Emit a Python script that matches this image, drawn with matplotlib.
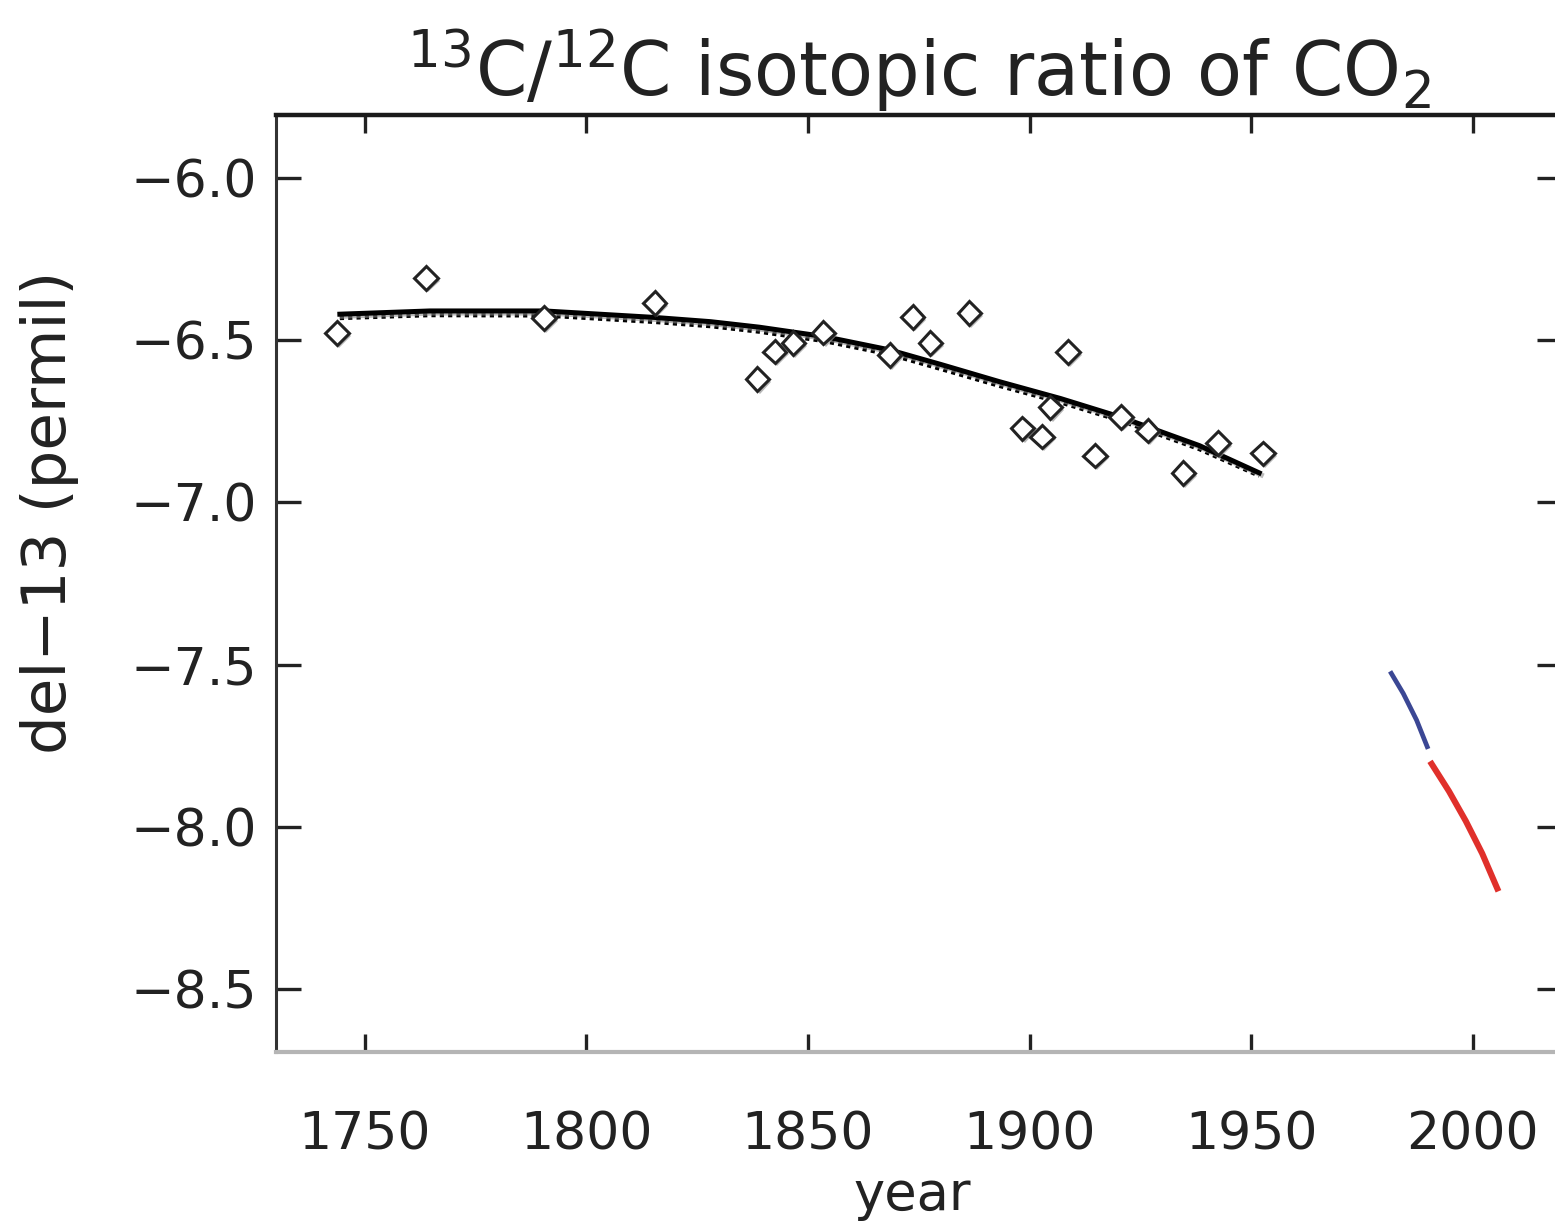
import matplotlib
matplotlib.use('Agg')
import matplotlib.pyplot as plt
import matplotlib.patheffects as pe

plt.rcParams['font.family'] = ['DejaVu Sans']
plt.rcParams['mathtext.default'] = 'regular'

# ice core / firn measurements (diamonds)
core_years = [1743.7, 1763.8, 1790.4, 1815.4, 1838.6, 1842.5, 1846.7, 1853.5,
              1868.4, 1873.6, 1877.6, 1886.4, 1898.4, 1902.8, 1904.7, 1908.7,
              1914.7, 1920.6, 1926.6, 1934.7, 1942.5, 1952.7]
core_d13 = [-6.478, -6.308, -6.432, -6.385, -6.620, -6.535, -6.509, -6.477,
            -6.546, -6.428, -6.508, -6.417, -6.772, -6.797, -6.707, -6.537,
            -6.856, -6.736, -6.779, -6.910, -6.817, -6.849]

# smooth fits through the core data
fit_years = [1744.4, 1764.7, 1790.6, 1815.4, 1828.0, 1839.0, 1853.7, 1868.4,
             1880.0, 1893.2, 1907.0, 1920.5, 1938.3, 1951.8]
fit_d13 = [-6.420, -6.410, -6.410, -6.430, -6.443, -6.460, -6.489, -6.530,
           -6.575, -6.628, -6.680, -6.737, -6.825, -6.909]
fit2_d13 = [-6.432, -6.423, -6.424, -6.444, -6.457, -6.474, -6.503, -6.544,
            -6.589, -6.641, -6.692, -6.748, -6.836, -6.918]

# atmospheric records
blue_years = [1981.6, 1984.3, 1987.3, 1989.7]
blue_d13 = [-7.527, -7.589, -7.671, -7.753]
red_years = [1990.7, 1994.6, 1998.4, 2002.1, 2005.5]
red_d13 = [-7.806, -7.890, -7.982, -8.082, -8.190]

xticks = [1750, 1800, 1850, 1900, 1950, 2000]
yticks = [-6.0, -6.5, -7.0, -7.5, -8.0, -8.5]

shadow = [pe.SimpleLineShadow(offset=(1.5, -1.5), shadow_color='0.55', alpha=0.6), pe.Normal()]

fig = plt.figure(figsize=(15.55, 12.27), dpi=100)
ax = fig.add_axes([0.1775, 0.1426, 0.8267, 0.7637])

ax.plot(fit_years, fit2_d13, color='black', lw=3, ls=(0, (1, 1)))
ax.plot(fit_years, fit_d13, color='black', lw=3.6, path_effects=shadow)
ax.plot(core_years, core_d13, ls='none', marker='D', ms=12, mfc='white',
        mec='#222222', mew=2.2,
        path_effects=[pe.SimplePatchShadow(offset=(1.5, -2), shadow_rgbFace='0.6', alpha=0.7), pe.Normal()])
ax.plot(blue_years, blue_d13, color='#3b4794', lw=3.4)
ax.plot(red_years, red_d13, color='#e0302b', lw=4.4)

ax.set_xlim(1730, 2020)
ax.set_ylim(-8.694, -5.806)
ax.set_xticks(xticks)
ax.set_yticks(yticks)
ax.set_yticklabels(['\u2212%.1f' % abs(v) for v in yticks])

ax.tick_params(axis='both', direction='in', width=2.4, colors='#222222',
               labelcolor='#222222', labelsize=37.5)
ax.tick_params(axis='x', top=True, length=13, pad=42)
ax.tick_params(axis='y', right=True, length=18, pad=14)

ax.spines['top'].set_linewidth(3.2)
ax.spines['top'].set_color('#1a1a1a')
ax.spines['left'].set_linewidth(2.2)
ax.spines['left'].set_color('#333333')
ax.spines['bottom'].set_linewidth(3.0)
ax.spines['bottom'].set_color('#b5b5b5')

ax.set_title(r'$^{13}$C/$^{12}$C isotopic ratio of CO$_2$', fontsize=53,
             color='#222222', pad=14)
ax.set_xlabel('year', fontsize=38, color='#222222')
ax.xaxis.set_label_coords(0.4947, -0.1526)
ax.xaxis.label.set_va('center')
ax.set_ylabel('del\u221213 (permil)', fontsize=44, color='#222222')
ax.yaxis.set_label_coords(-0.176, 0.576)
ax.yaxis.label.set_va('center')

fig.savefig('out.png', dpi=100)
